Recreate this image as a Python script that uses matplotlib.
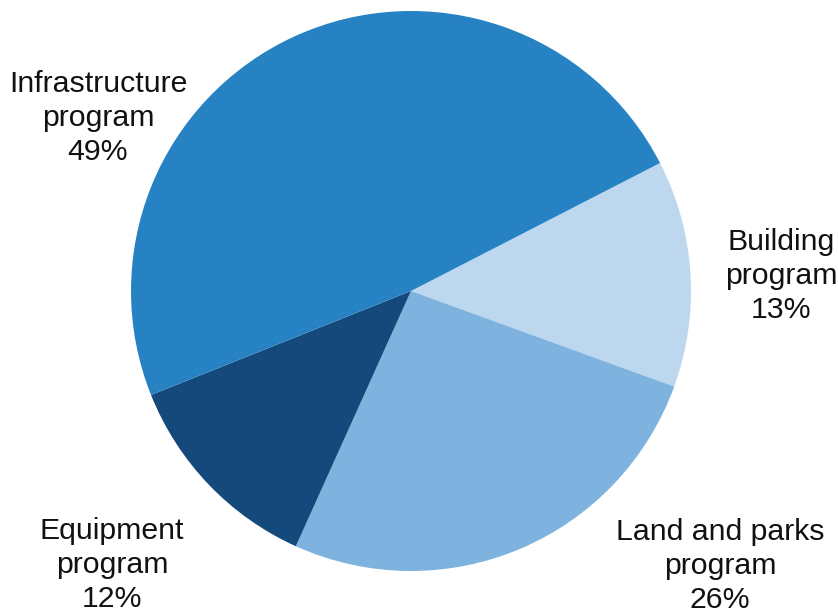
import matplotlib
matplotlib.use("Agg")
import matplotlib.pyplot as plt

# -----------------------------
# DATA
# -----------------------------
categories = ["Building\nprogram", "Land and parks\nprogram", "Equipment\nprogram", "Infrastructure\nprogram"]
shares = [13.1, 26.2, 12.2, 48.5]
share_labels = ["13%", "26%", "12%", "49%"]
colors = ["#BDD7EE", "#7EB3E0", "#15497C", "#2682C2"]

# label centres (data units, pie radius = 1)
label_pos = [(1.321, 0.055), (1.104, -0.982), (-1.068, -0.978), (-1.118, 0.618)]

plt.rcParams['font.family'] = ['Liberation Sans', 'DejaVu Sans']

fig = plt.figure(figsize=(8.38, 6.15), dpi=100)
ax = fig.add_axes([0, 0, 1, 1])

ax.pie(
    shares,
    colors=colors,
    startangle=27.2,
    counterclock=False,
    radius=1.0,
    wedgeprops=dict(linewidth=0),
)

for name, pct, (x, y) in zip(categories, share_labels, label_pos):
    ax.text(x, y, f"{name}\n{pct}", ha="center", va="center",
            multialignment="center", fontsize=21.8, color="#111111",
            linespacing=1.27)

ax.set_xlim(-411 / 280, (838 - 411) / 280)
ax.set_ylim(-(615 - 291) / 280, 291 / 280)
ax.set_aspect("equal")
ax.axis("off")

fig.savefig("out.png", dpi=100, facecolor="white")
